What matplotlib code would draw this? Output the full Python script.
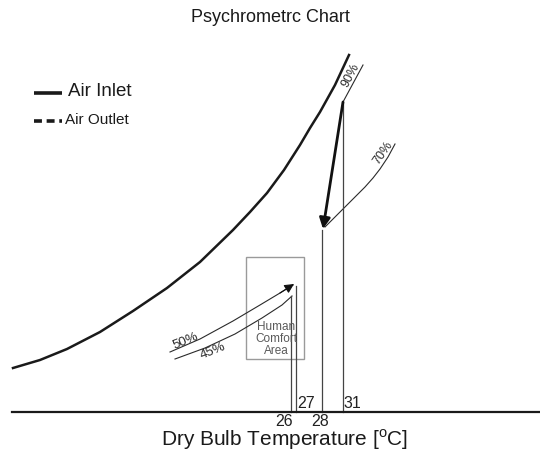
import matplotlib

matplotlib.use("Agg")
import matplotlib.pyplot as plt
from matplotlib.patches import Rectangle

plt.rcParams["font.family"] = ["Liberation Sans", "DejaVu Sans"]
plt.rcParams["mathtext.fontset"] = "custom"
plt.rcParams["mathtext.rm"] = "Liberation Sans"

# schematic chart units: x = position along the dry-bulb axis, y = height above it
sat_x = [13, 40, 67, 100, 133, 167, 200, 233, 250, 267, 284, 300, 310, 320, 335, 342, 349]
sat_y = [44, 52, 63, 80, 101, 124, 150, 182, 200, 219, 242, 267, 284, 300, 327, 342, 357]

rh50_x = [170, 200, 233, 260, 280, 293]
rh50_y = [60, 73, 91, 107, 119, 127]
rh45_x = [175, 205, 235, 262, 282, 292]
rh45_y = [53, 64, 78, 94, 107, 116]
rh70_x = [325, 335, 345, 355, 365, 373, 380, 388, 395]
rh70_y = [185, 195, 205, 215, 225, 234, 243, 255, 268]
rh90_x = [343, 363]
rh90_y = [310, 347]

temp_labels = ["26", "27", "28", "31"]
temp_x = [291, 296, 322, 343]
temp_top = [116, 126, 182, 310]

inlet_pt = (343, 310)   # 31 C, 90 %
outlet_pt = (323, 183)  # 28 C, 70 %

comfort_x = [246, 304]
comfort_y = [53, 155]

fig = plt.figure(figsize=(5.4, 4.54), dpi=100)
ax = fig.add_axes([0, 0, 1, 1])
ax.set_xlim(0, 540)
ax.set_ylim(-42, 412)
ax.axis("off")

# saturation curve
ax.plot(sat_x, sat_y, color="#1a1a1a", lw=1.8, solid_joinstyle="round")

# relative humidity lines
for xs, ys in [(rh50_x, rh50_y), (rh45_x, rh45_y), (rh70_x, rh70_y), (rh90_x, rh90_y)]:
    ax.plot(xs, ys, color="#2a2a2a", lw=0.8)

ax.annotate("", xy=(rh50_x[-1] + 1, rh50_y[-1] + 1), xytext=(rh50_x[-2], rh50_y[-2]),
            arrowprops=dict(arrowstyle="-|>", lw=0.8, color="#111111",
                            mutation_scale=14, shrinkA=0, shrinkB=0))

# comfort zone
ax.add_patch(Rectangle((comfort_x[0], comfort_y[0]), comfort_x[1] - comfort_x[0],
                       comfort_y[1] - comfort_y[0], fill=False, ec="#9a9a9a", lw=1.0))
ax.text(sum(comfort_x) / 2 + 1, 73, "Human\nComfort\nArea", ha="center", va="center",
        fontsize=8.5, color="#5a5a5a", linespacing=1.0)

# dry bulb verticals
for x, top in zip(temp_x, temp_top):
    ax.plot([x, x], [0, top], color="#444444", lw=0.9)

# process: inlet -> outlet
ax.annotate("", xy=outlet_pt, xytext=inlet_pt,
            arrowprops=dict(arrowstyle="-|>", lw=2.0, color="#111111",
                            mutation_scale=16, shrinkA=0, shrinkB=0))

# axis line
ax.plot([12, 540], [0, 0], color="#1a1a1a", lw=1.6)

# temperature labels (above / below the axis line)
label_dx = [-7, 10, -2, 9]
label_y = [-9, 8, -9, 8]
for lab, x, dx, y in zip(temp_labels, temp_x, label_dx, label_y):
    ax.text(x + dx, y, lab, ha="center", va="center", fontsize=11.5, color="#222222")

# rh labels
ax.text(186, 71, "50%", rotation=22, ha="center", va="center", fontsize=9.5, color="#2a2a2a")
ax.text(213, 61, "45%", rotation=22, ha="center", va="center", fontsize=9.5, color="#2a2a2a")
ax.text(383, 259, "70%", rotation=55, ha="center", va="center", fontsize=9, color="#2a2a2a")
ax.text(351, 337, "90%", rotation=62, ha="center", va="center", fontsize=9, color="#2a2a2a")

# legend
ax.plot([34, 62], [319, 319], color="#1a1a1a", lw=2.6, solid_capstyle="butt")
ax.text(68, 320, "Air Inlet", ha="left", va="center", fontsize=13.5, color="#1a1a1a")
ax.plot([34, 62], [291, 291], color="#1a1a1a", lw=2.6, dashes=(2.2, 1.3))
ax.text(65, 292, "Air Outlet", ha="left", va="center", fontsize=11, color="#1a1a1a")

ax.text(270, 394, "Psychrometrc Chart", ha="center", va="center", fontsize=13, color="#1a1a1a")
ax.text(285, -28, "Dry Bulb Temperature [$^{\\mathrm{o}}$C]", ha="center", va="center",
        fontsize=15, color="#1a1a1a")

fig.savefig("out.png", dpi=100)
